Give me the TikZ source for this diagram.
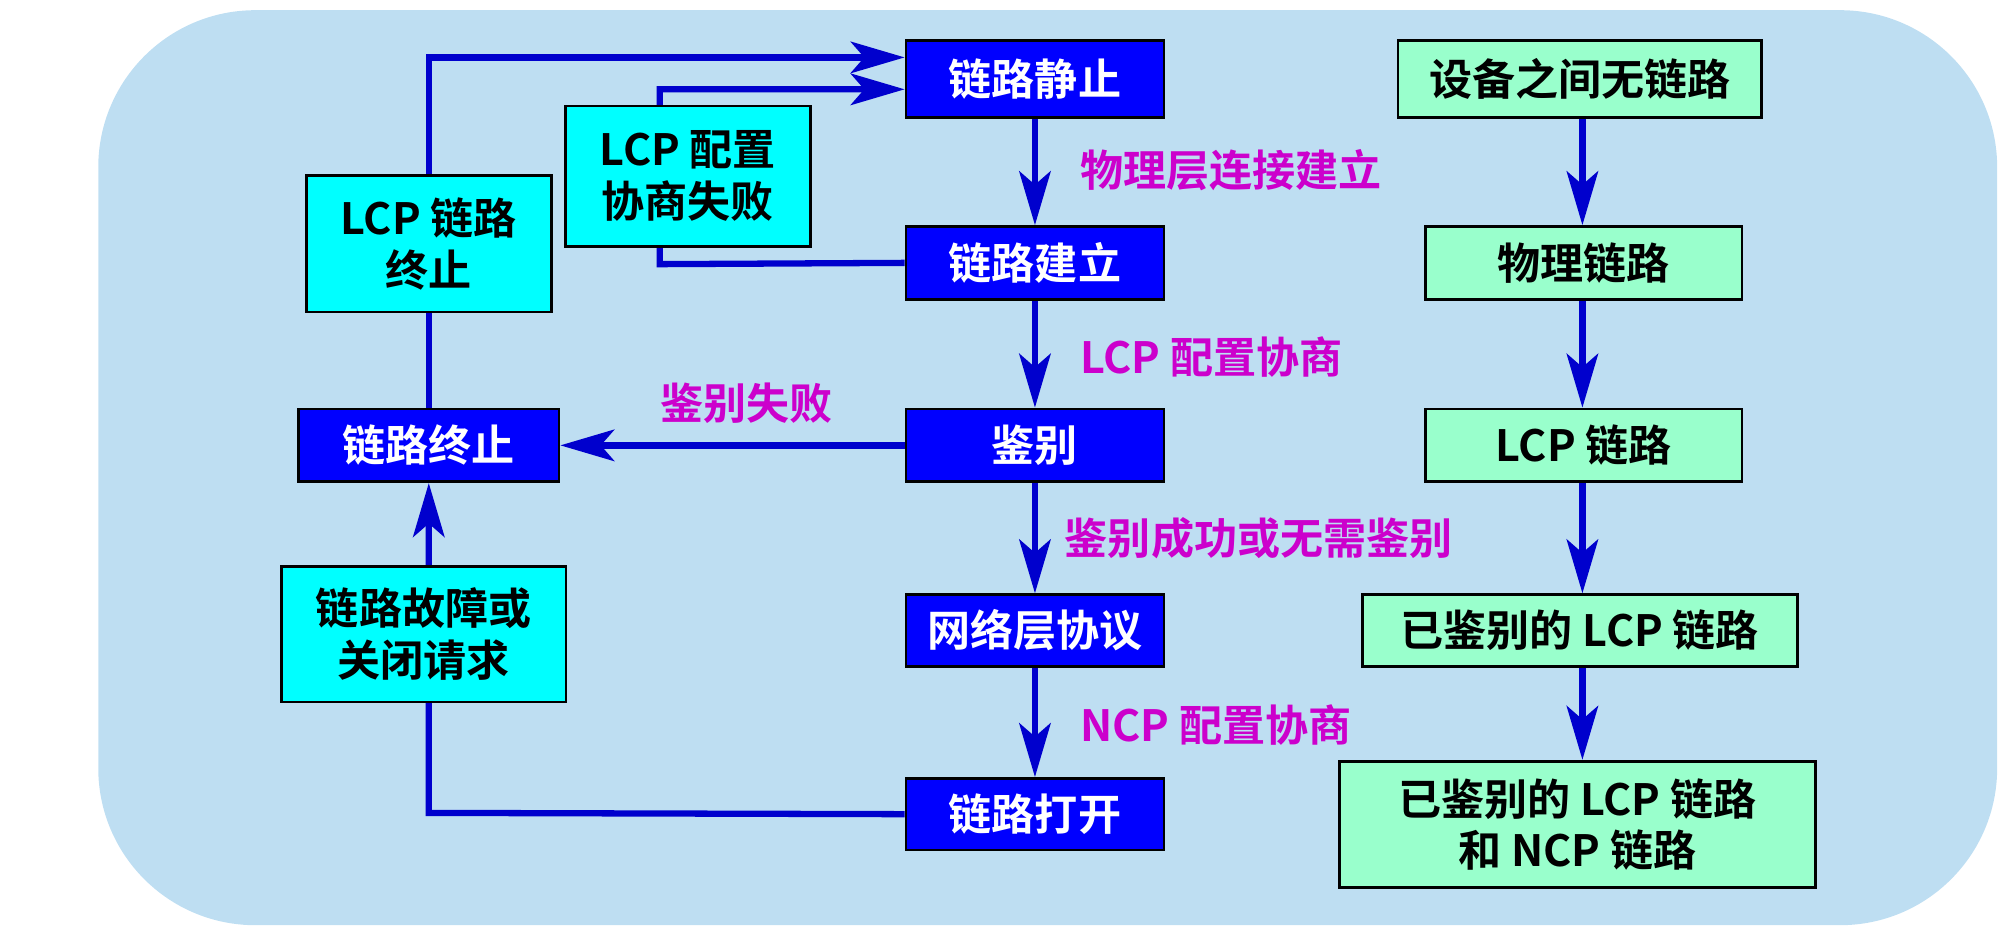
\documentclass[tikz,border=0pt]{standalone}
\usepackage{fontspec}
\setmainfont{Noto Sans CJK SC}[BoldFont={* Bold}]
\usetikzlibrary{arrows.meta}
\definecolor{bg}{RGB}{190,222,242}
\definecolor{bl}{RGB}{0,0,255}
\definecolor{ln}{RGB}{0,0,205}
\definecolor{cy}{RGB}{0,255,255}
\definecolor{gr}{RGB}{153,255,204}
\definecolor{mg}{RGB}{204,0,204}
\begin{document}
\begin{tikzpicture}[x=0.01cm,y=-0.01cm,
 box/.style={draw=black,line width=0.6pt,inner sep=0pt,font=\fontsize{9.6}{11.5}\selectfont\bfseries,align=center},
 blue/.style={box,fill=bl,text=white},
 cyan/.style={box,fill=cy},
 green/.style={box,fill=gr},
 lab/.style={text=mg,font=\fontsize{9.6}{11}\selectfont\bfseries},
 con/.style={draw=ln,line width=1.4pt},
 arr/.style={con,-{Stealth[length=12pt,width=7pt,inset=3pt]}}]
\useasboundingbox (0,0) rectangle (1568,731);
\fill[bg,rounded corners=35pt] (77,8) rectangle (1565,725);
% blue column
\node[blue,minimum width=2.02cm,minimum height=0.6cm] (s) at (811,62) {链路静止};
\node[blue,minimum width=2.02cm,minimum height=0.57cm] (e) at (811,206) {链路建立};
\node[blue,minimum width=2.02cm,minimum height=0.57cm] (a) at (811,349) {鉴别};
\node[blue,minimum width=2.02cm,minimum height=0.56cm] (n) at (811,494) {网络层协议};
\node[blue,minimum width=2.02cm,minimum height=0.56cm] (o) at (811,638) {链路打开};
\node[blue,minimum width=2.04cm,minimum height=0.57cm] (t) at (336,349) {链路终止};
% connectors behind cyan boxes
\draw[arr] (e.west) -- (517,207) -- (517,70) -- (s.west |- 0,70);
\draw[arr] (t.north) -- (336,45) -- (s.west |- 0,45);
\draw[arr] (o.west) -- (336,637) -- (t.south);
\draw[arr] (a.west) -- (t.east);
\node[cyan,minimum width=1.92cm,minimum height=1.07cm] (lt) at (336,191) {LCP 链路\\终止};
\node[cyan,minimum width=1.92cm,minimum height=1.1cm] (lf) at (539,138) {LCP 配置\\协商失败};
\node[cyan,minimum width=2.23cm,minimum height=1.06cm] (fc) at (332,497) {链路故障或\\关闭请求};
\draw[arr] (s) -- (e);
\draw[arr] (e) -- (a);
\draw[arr] (a) -- (n);
\draw[arr] (n) -- (o);
\node[lab,anchor=west] at (834,133) {物理层连接建立};
\node[lab,anchor=west] at (834,280) {LCP 配置协商};
\node[lab] at (585,316) {鉴别失败};
\node[lab,anchor=west] at (822,422) {鉴别成功或无需鉴别};
\node[lab,anchor=west] at (834,568) {NCP 配置协商};
% green column
\node[green,minimum width=2.85cm,minimum height=0.6cm] (g1) at (1238,62) {设备之间无链路};
\node[green,minimum width=2.48cm,minimum height=0.57cm] (g2) at (1241,206) {物理链路};
\node[green,minimum width=2.48cm,minimum height=0.57cm] (g3) at (1241,349) {LCP 链路};
\node[green,minimum width=3.41cm,minimum height=0.56cm] (g4) at (1238,494) {已鉴别的 LCP 链路};
\node[green,minimum width=3.73cm,minimum height=0.99cm] (g5) at (1236,646) {已鉴别的 LCP 链路\\和 NCP 链路};
\draw[arr] (g1.south -| 1240,0) -- (g2.north -| 1240,0);
\draw[arr] (g2.south -| 1240,0) -- (g3.north -| 1240,0);
\draw[arr] (g3.south -| 1240,0) -- (g4.north -| 1240,0);
\draw[arr] (g4.south -| 1240,0) -- (g5.north -| 1240,0);
\end{tikzpicture}
\end{document}
